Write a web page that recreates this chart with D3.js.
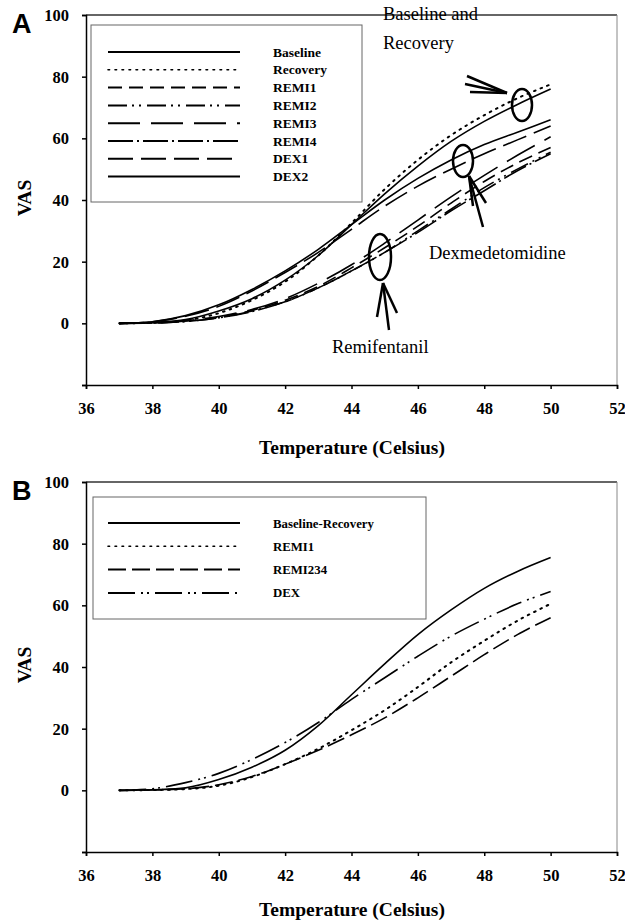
<!DOCTYPE html>
<html lang="en">
<head>
<meta charset="UTF-8">
<title>VAS vs temperature</title>
<script src="https://d3js.org/d3.v7.min.js"></script>
<style>
  body { margin: 0; background: #fff; }
  svg text { font-family: "Liberation Serif", "Times New Roman", Times, "DejaVu Serif", serif; fill: #000; }
</style>
</head>
<body>
<div id="chart"></div>
<script>
// temperatures (Celsius) at which each curve is read
var temps = [37, 38, 39, 40, 41, 42, 43, 44, 45, 46, 47, 48, 49, 50]
var xTicks = [36, 38, 40, 42, 44, 46, 48, 50, 52]
var yTicks = [-20, 0, 20, 40, 60, 80, 100]

// panel A
var aBaseline = [0, 0.3, 1.2, 4, 8, 14, 22, 32, 42, 51, 59, 65.5, 71, 76]
var aRecovery = [0, 0.2, 0.9, 3.3, 7.5, 13.5, 22, 32.5, 43.5, 53, 61, 67.5, 73, 77.5]
var aRemi1 = [0, 0.2, 0.8, 2, 4.2, 7.5, 12, 18, 24.5, 31.5, 39, 46, 52, 57]
var aRemi2 = [0, 0.1, 0.6, 1.8, 4, 7, 11.5, 17, 23, 30, 37, 44, 50, 55.5]
var aRemi3 = [0, 0.2, 0.8, 2.2, 4.5, 8, 13, 19, 26, 33.5, 41, 48, 54.5, 60.5]
var aRemi4 = [0, 0.1, 0.6, 1.8, 3.8, 7, 11.5, 17, 23, 29.5, 36.5, 43, 49.5, 55]
var aDex1 = [0, 0.5, 2.3, 5.5, 10.5, 16.5, 23, 30.5, 38, 44.5, 50, 55, 59.5, 64]
var aDex2 = [0, 0.5, 2.5, 6, 11, 17, 24, 32, 40, 47, 53, 58, 62, 66]
var aNames = ["Baseline", "Recovery", "REMI1", "REMI2", "REMI3", "REMI4", "DEX1", "DEX2"]

// panel B
var bBaseRec = [0, 0.2, 0.8, 3.5, 7.5, 13, 21, 31, 41, 50.5, 58.5, 65.5, 71, 75.5]
var bRemi1 = [0, 0.1, 0.4, 1.5, 4.3, 8.5, 13.5, 19.5, 26, 33.5, 41.5, 48.5, 55, 60.5]
var bRemi234 = [0, 0.1, 0.5, 1.8, 4.5, 8.5, 13, 18, 23.5, 30, 37, 44, 50.5, 56]
var bDex = [0, 0.5, 2.5, 5.5, 10, 15.5, 22, 29.5, 36.5, 43.5, 50, 55.5, 60.5, 64.5]
var bNames = ["Baseline-Recovery", "REMI1", "REMI234", "DEX"]

var width = 625, height = 922
var SERIF = "'Liberation Serif', 'Times New Roman', Times, 'DejaVu Serif', serif"

var svg = d3.select("#chart").append("svg")
    .attr("width", width)
    .attr("height", height)
    .attr("font-family", SERIF)

// dash styles
var SOLID = null
var DOTS = "1.6,5.4"

function drawPanel(top, letter, series, names, dashes, legendBox, legendStep, legendFont, titleY) {
    var x = d3.scaleLinear().domain([36, 52]).range([86, 617])
    var y = d3.scaleLinear().domain([-20, 100]).range([top + 370, top])
    var g = svg.append("g")

    // frame
    g.append("line").attr("x1", 86).attr("x2", 617).attr("y1", top).attr("y2", top)
        .attr("stroke", "#333").attr("stroke-width", 1.3)
    g.append("line").attr("x1", 617).attr("x2", 617).attr("y1", top).attr("y2", top + 370)
        .attr("stroke", "#888").attr("stroke-width", 1)

    var xAxis = g.append("g")
        .attr("transform", "translate(0," + (top + 370) + ")")
        .call(d3.axisBottom(x).tickValues(xTicks).tickSize(4).tickPadding(13).tickFormat(d3.format("d")))
    var yAxis = g.append("g")
        .attr("transform", "translate(86,0)")
        .call(d3.axisLeft(y).tickValues(yTicks).tickSize(4).tickPadding(13)
            .tickFormat(function(d) { return d < 0 ? "" : d }))
    ;[xAxis, yAxis].forEach(function(a) {
        a.attr("font-family", SERIF)
        a.selectAll("path,line").attr("stroke", "#000").attr("stroke-width", 1.5)
        a.selectAll("text")
            .style("font-family", SERIF)
            .style("font-weight", "bold")
            .style("font-size", "16.5px")
            .attr("fill", "#000")
    })
    yAxis.selectAll("text").attr("dy", "0.34em")

    g.append("text")
        .attr("x", 352).attr("y", top + titleY)
        .attr("text-anchor", "middle")
        .style("font-weight", "bold").style("font-size", "19.5px")
        .text("Temperature (Celsius)")
    g.append("text")
        .attr("transform", "translate(31," + (top + 183) + ") rotate(-90)")
        .attr("text-anchor", "middle")
        .style("font-weight", "bold").style("font-size", "19.5px")
        .text("VAS")
    g.append("text")
        .attr("x", 12).attr("y", top + 18)
        .style("font-family", "'Liberation Sans', Arial, sans-serif")
        .style("font-weight", "bold").style("font-size", "27px")
        .text(letter)

    var line = d3.line()
        .x(function(d, i) { return x(temps[i]) })
        .y(function(d) { return y(d) })
        .curve(d3.curveCatmullRom.alpha(0.5))

    series.forEach(function(s, i) {
        g.append("path")
            .attr("d", line(s))
            .attr("fill", "none")
            .attr("stroke", "#000")
            .attr("stroke-width", dashes[i] === DOTS ? 2 : 1.6)
            .attr("stroke-linecap", dashes[i] === DOTS ? "round" : "butt")
            .attr("stroke-dasharray", dashes[i])
    })

    // legend
    var lg = g.append("g")
    lg.append("rect")
        .attr("x", legendBox[0]).attr("y", top + legendBox[1])
        .attr("width", legendBox[2]).attr("height", legendBox[3])
        .attr("fill", "#fff").attr("stroke", "#666").attr("stroke-width", 1)
    names.forEach(function(n, i) {
        var ly = top + legendBox[1] + legendStep[0] + i * legendStep[1]
        lg.append("line")
            .attr("x1", 108).attr("x2", 240).attr("y1", ly).attr("y2", ly)
            .attr("stroke", "#000")
            .attr("stroke-width", dashes[i] === DOTS ? 1.6 : 2)
            .attr("stroke-linecap", dashes[i] === DOTS ? "round" : "butt")
            .attr("stroke-dasharray", dashes[i])
        lg.append("text")
            .attr("x", 273).attr("y", ly + 4.5)
            .style("font-weight", "bold").style("font-size", legendFont + "px")
            .text(n)
    })
    return { x: x, y: y, g: g }
}

var pA = drawPanel(15, "A",
    [aBaseline, aRecovery, aRemi1, aRemi2, aRemi3, aRemi4, aDex1, aDex2], aNames,
    [SOLID, DOTS, "14,7", "19,5,2,5,2,6", "32,11", "25,4,2,4", "25,8", SOLID],
    [91, 10, 271, 177], [27, 17.8], 13.5, 439)

var pB = drawPanel(482, "B",
    [bBaseRec, bRemi1, bRemi234, bDex], bNames,
    [SOLID, DOTS, "18,6", "27,6,2,4,2,6"],
    [93, 15, 333, 122], [26, 23.3], 12.8, 434)

// annotations on panel A
var ann = pA.g.append("g")
var annText = [
    { t: "Baseline and", x: 383, y: 20 },
    { t: "Recovery", x: 383, y: 49 },
    { t: "Dexmedetomidine", x: 429, y: 259 },
    { t: "Remifentanil", x: 332, y: 353 }
]
annText.forEach(function(a) {
    ann.append("text").attr("x", a.x).attr("y", a.y)
        .style("font-size", "18.5px").text(a.t)
})
var ellipses = [
    { cx: 522, cy: 105, rx: 10, ry: 16 },
    { cx: 463, cy: 161, rx: 10, ry: 16 },
    { cx: 380, cy: 257, rx: 11, ry: 23 }
]
ellipses.forEach(function(e) {
    ann.append("ellipse").attr("cx", e.cx).attr("cy", e.cy)
        .attr("rx", e.rx).attr("ry", e.ry)
        .attr("fill", "none").attr("stroke", "#000").attr("stroke-width", 2.5)
})
var arrows = [
    { tip: [507, 93], ends: [[467, 76], [465, 84], [470, 92]] },
    { tip: [469, 176], ends: [[483, 227], [473, 206], [486, 203]] },
    { tip: [383, 283], ends: [[377, 317], [389, 330], [397, 313]] }
]
arrows.forEach(function(a) {
    a.ends.forEach(function(p) {
        ann.append("line")
            .attr("x1", a.tip[0]).attr("y1", a.tip[1])
            .attr("x2", p[0]).attr("y2", p[1])
            .attr("stroke", "#000").attr("stroke-width", 2.5)
    })
})
</script>
</body>
</html>
